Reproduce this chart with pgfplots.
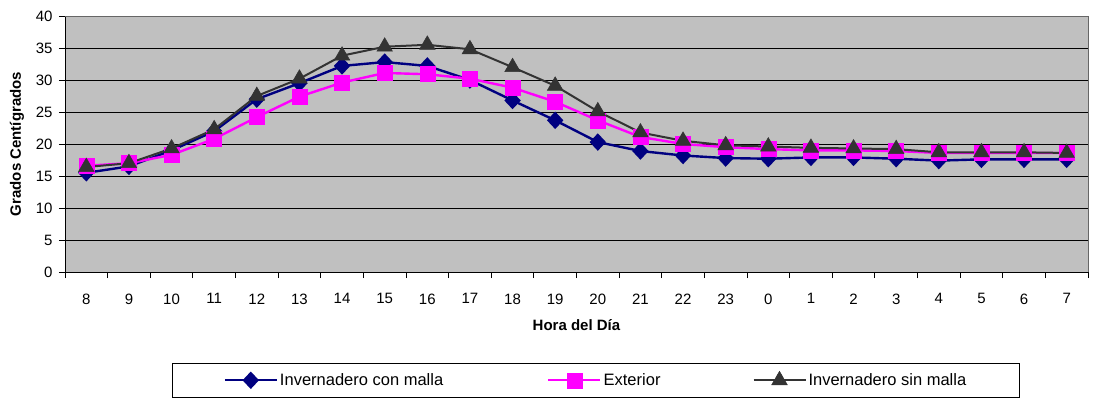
\documentclass[border=0pt]{standalone}
\usepackage{pgfplots}
\pgfplotsset{compat=1.18}
\usepackage{pgfplotstable}
\usepackage{fontspec}
\setmainfont{Liberation Sans}
\definecolor{cblue}{HTML}{000080}
\definecolor{cmag}{HTML}{FF00FF}
\definecolor{cgray}{HTML}{333333}
\definecolor{bg}{HTML}{C0C0C0}
\pgfplotstableread{
idx A B C
0 15.5 16.6 16.4
1 16.5 17.0 17.0
2 19.0 18.3 19.3
3 22.0 20.8 22.3
4 27.0 24.2 27.5
5 29.5 27.4 30.2
6 32.2 29.6 33.8
7 32.8 31.1 35.2
8 32.2 30.9 35.5
9 30.0 30.2 34.8
10 26.8 28.8 32.0
11 23.7 26.6 29.1
12 20.3 23.7 25.1
13 18.9 21.1 21.8
14 18.2 20.0 20.5
15 17.8 19.5 19.8
16 17.7 19.2 19.6
17 17.9 19.0 19.4
18 17.9 19.0 19.3
19 17.7 18.9 19.2
20 17.4 18.6 18.7
21 17.6 18.6 18.7
22 17.6 18.6 18.7
23 17.6 18.6 18.6
}\datatable
\begin{document}
\begin{tikzpicture}
\begin{axis}[
  scale only axis, width=1023pt, height=256pt,
  xmin=-0.5, xmax=23.5, ymin=0, ymax=40,
  clip=false,
  axis background/.style={fill=bg},
  axis x line*=bottom, axis y line*=left,
  xtick={0,...,23},
  xticklabels={8,9,10,11,12,13,14,15,16,17,18,19,20,21,22,23,0,1,2,3,4,5,6,7},
  major x tick style={draw=none},
  minor xtick={-0.5,0.5,...,23.5},
  minor tick length=6pt,
  minor x tick style={black, line width=0.8pt},
  ytick={0,5,...,40},
  major tick length=6pt,
  tick align=outside,
  y tick style={black, line width=0.8pt},
  ymajorgrids, major y grid style={black, line width=0.9pt},
  axis line style={black, line width=0.9pt},
  /pgf/number format/assume math mode=true,
  tick label style={font=\fontsize{15}{18}\selectfont},
  xticklabel style={yshift=-12pt},
  yticklabel style={xshift=-3pt},
  xlabel={\textbf{Hora del Día}},
  ylabel={\textbf{Grados Centígrados}},
  label style={font=\fontsize{15}{18}\selectfont},
  xlabel style={at={(axis description cs:0.5,0)}, anchor=center, yshift=-53pt},
  ylabel style={at={(axis description cs:0,0.5)}, anchor=center, yshift=48pt},
  legend columns=3,
  legend style={at={(0.519,-0.355)}, anchor=north, draw=black, line width=0.8pt,
    fill=white, inner xsep=51.5pt, inner ysep=8pt,
    font=\fontsize{16.5}{19}\selectfont,
    /tikz/every even column/.append style={column sep=0pt},
    nodes={inner xsep=2pt}},
  legend image code/.code={
    \draw[mark repeat=2,mark phase=2] plot coordinates {(0pt,0pt) (26pt,0pt) (52pt,0pt)};
  },
]
\draw[draw=gray!80!black, line width=0.9pt] (rel axis cs:0,1) -- (rel axis cs:1,1) -- (rel axis cs:1,0);
\addplot[cblue, line width=2.4pt, mark=diamond*, mark size=7pt, mark options={xscale=1.25, solid}] table[x=idx, y=A] {\datatable};
\addlegendentry{Invernadero con malla\hspace*{102pt}}
\addplot[cmag, line width=2.4pt, mark=square*, mark size=7.5pt, mark options={solid, line width=0.5pt}] table[x=idx, y=B] {\datatable};
\addlegendentry{Exterior\hspace*{90pt}}
\addplot[cgray, line width=2pt, mark=triangle*, mark size=9pt, mark options={solid, line width=0.5pt}] table[x=idx, y=C] {\datatable};
\addlegendentry{Invernadero sin malla}
\path (rel axis cs:0,0) ++(-65pt,-126pt) rectangle ++(1097pt,398pt);
\end{axis}
\end{tikzpicture}
\end{document}
